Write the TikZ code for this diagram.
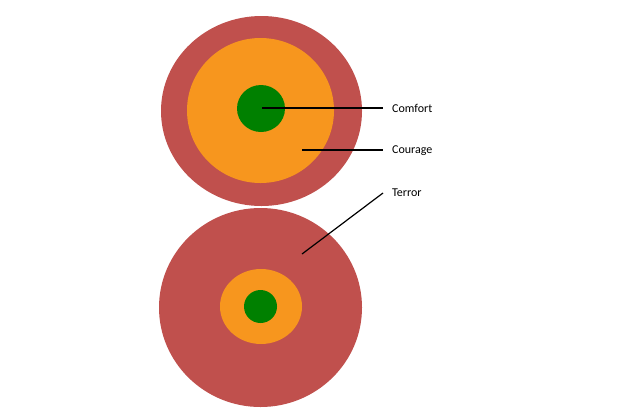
\documentclass[tikz,border=0pt]{standalone}
\usepackage{fontspec}
\setmainfont{Carlito}
\definecolor{terror}{RGB}{192,80,77}
\definecolor{courage}{RGB}{247,150,30}
\definecolor{comfort}{RGB}{0,128,0}
\begin{document}
\begin{tikzpicture}[x=1pt,y=-1pt,
  ring/.style={draw=none},
  lbl/.style={anchor=west,inner sep=0pt,font=\fontsize{12}{14}\selectfont},
  lead/.style={draw=black,line width=1.2pt}]
\useasboundingbox[fill=white] (0,0) rectangle (620,413);
% top target
\fill[terror] (261.5,111) ellipse [x radius=100.5, y radius=95];
\fill[courage] (260.5,110.5) ellipse [x radius=73.5, y radius=72.5];
\fill[comfort] (261,108.5) ellipse [x radius=24, y radius=23.5];
% bottom target
\fill[terror] (260.5,307.5) ellipse [x radius=101.5, y radius=99.5];
\fill[courage] (261,306.5) ellipse [x radius=41, y radius=37.5];
\fill[comfort] (260.5,306.5) ellipse [x radius=16.5, y radius=16.5];
% labels
\coordinate (pcomfort) at (262,108);
\coordinate (pcourage) at (302,150);
\coordinate (pterror) at (302,254);
\coordinate (ecomfort) at (383,108);
\coordinate (ecourage) at (383,150);
\coordinate (eterror) at (383,193);
\node[lbl] (comfort) at (392,108) {Comfort};
\node[lbl] (courage) at (392,151) {Courage};
\node[lbl] (terror) at (392,193) {Terror};
\draw[lead] (pcomfort) -- (ecomfort);
\draw[lead] (pcourage) -- (ecourage);
\draw[lead] (pterror) -- (eterror);
\end{tikzpicture}
\end{document}
